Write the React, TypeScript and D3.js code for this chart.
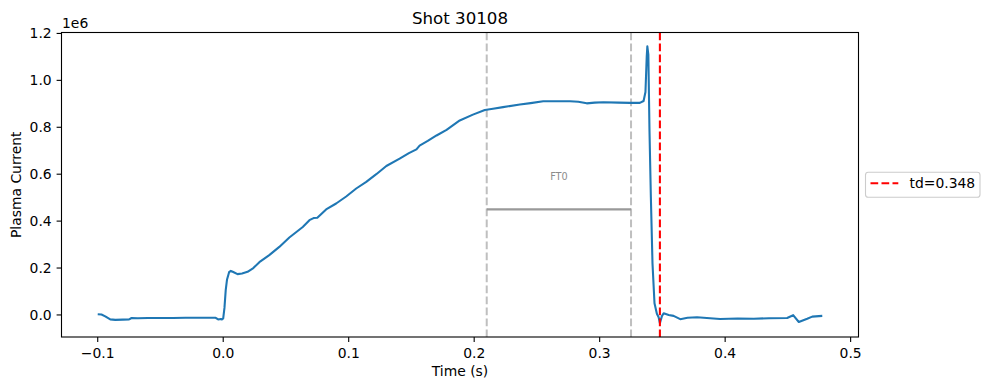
import React, { useEffect, useRef } from 'react';
import * as d3 from 'd3';

// plasma current trace (current in units of 1e6 A)
const time = [
  -0.1, -0.097, -0.094, -0.09, -0.086, -0.08, -0.075, -0.073, -0.068, -0.06,
  -0.05, -0.04, -0.03, -0.02, -0.01, -0.006, -0.004, -0.002, -0.001, 0.0,
  0.001, 0.002, 0.003, 0.0048, 0.0061, 0.008, 0.0114, 0.015, 0.0194, 0.024,
  0.0288, 0.0367, 0.0447, 0.0527, 0.0634, 0.0687, 0.072, 0.075, 0.082, 0.09,
  0.098, 0.106, 0.114, 0.122, 0.13, 0.1406, 0.148, 0.154, 0.1565, 0.163,
  0.17, 0.178, 0.1885, 0.199, 0.2085, 0.215, 0.223, 0.2364, 0.245, 0.255,
  0.265, 0.2764, 0.283, 0.2897, 0.296, 0.303, 0.315, 0.3243, 0.332, 0.335,
  0.3365, 0.3375, 0.338, 0.3388, 0.3397, 0.3408, 0.3421, 0.3437, 0.3456, 0.347,
  0.348, 0.3496, 0.351, 0.355, 0.3589, 0.3642, 0.37, 0.3776, 0.388, 0.396,
  0.41, 0.4228, 0.435, 0.4494, 0.4542, 0.4587, 0.4654, 0.4694, 0.4774,
];
const current = [
  0.003, 0.002, -0.006, -0.019, -0.021, -0.02, -0.019, -0.013, -0.014, -0.013,
  -0.013, -0.013, -0.012, -0.012, -0.012, -0.012, -0.019, -0.017, -0.019, -0.015,
  0.03, 0.106, 0.15, 0.184, 0.188, 0.183, 0.174, 0.177, 0.184, 0.2,
  0.225, 0.255, 0.29, 0.33, 0.375, 0.404, 0.413, 0.414, 0.45, 0.475,
  0.505, 0.539, 0.567, 0.6, 0.635, 0.666, 0.69, 0.706, 0.722, 0.742,
  0.765, 0.789, 0.829, 0.854, 0.874, 0.879, 0.886, 0.897, 0.903, 0.911,
  0.911, 0.911, 0.909, 0.902, 0.905, 0.907, 0.905, 0.904, 0.904, 0.912,
  0.95, 1.1, 1.145, 1.11, 0.786, 0.503, 0.22, 0.05, 0.005, -0.01,
  -0.035, -0.005, 0.007, 0.0, -0.004, -0.018, -0.012, -0.01, -0.014, -0.017,
  -0.015, -0.016, -0.014, -0.013, -0.001, -0.03, -0.016, -0.007, -0.004,
];

const windowStart = 0.21;
const windowEnd = 0.325;
const windowLevel = 0.45;
const windowLabel = 'FT0';
const disruptionTime = 0.348;

const xTicks = [-0.1, 0.0, 0.1, 0.2, 0.3, 0.4, 0.5];
const yTicks = [0.0, 0.2, 0.4, 0.6, 0.8, 1.0, 1.2];

const W = 989;
const H = 390;
const FONT = 'DejaVu Sans, sans-serif';

const App = () => {
  const svgRef = useRef(null);

  useEffect(() => {
    document.body.style.margin = '0';
    const left = 61.5;
    const right = 858.5;
    const top = 32.5;
    const bottom = 337;

    const svg = d3.select(svgRef.current);
    svg.selectAll('*').remove();

    // matplotlib-like 5% margins
    const [x0, x1] = d3.extent(time);
    const [y0, y1] = d3.extent(current);
    const xPad = (x1 - x0) * 0.05;
    const yPad = (y1 - y0) * 0.05;

    const xScale = d3.scaleLinear().domain([x0 - xPad, x1 + xPad]).range([left, right]);
    const yScale = d3.scaleLinear().domain([y0 - yPad, y1 + yPad]).range([bottom, top]);

    const g = svg.append('g');

    // window markers
    [windowStart, windowEnd].forEach((t) => {
      g.append('line')
        .attr('x1', xScale(t)).attr('x2', xScale(t))
        .attr('y1', top).attr('y2', bottom)
        .attr('stroke', '#bfbfbf')
        .attr('stroke-width', 2)
        .attr('stroke-dasharray', '7.7,3.3');
    });

    g.append('line')
      .attr('x1', xScale(windowStart)).attr('x2', xScale(windowEnd))
      .attr('y1', yScale(windowLevel)).attr('y2', yScale(windowLevel))
      .attr('stroke', '#999999')
      .attr('stroke-width', 2.1);

    g.append('text')
      .attr('x', xScale((windowStart + windowEnd) / 2))
      .attr('y', yScale(windowLevel) - 29.5)
      .attr('text-anchor', 'middle')
      .attr('font-family', FONT)
      .attr('font-size', 9.7)
      .attr('fill', '#8c8c8c')
      .text(windowLabel);

    // trace
    const pts = time.map((t, i) => [t, current[i]]);
    const line = d3.line().x((d) => xScale(d[0])).y((d) => yScale(d[1]));
    g.append('path')
      .datum(pts)
      .attr('fill', 'none')
      .attr('stroke', '#1f77b4')
      .attr('stroke-width', 2.08)
      .attr('stroke-linejoin', 'round')
      .attr('d', line);

    // disruption time
    g.append('line')
      .attr('x1', xScale(disruptionTime)).attr('x2', xScale(disruptionTime))
      .attr('y1', top).attr('y2', bottom)
      .attr('stroke', 'red')
      .attr('stroke-width', 2.08)
      .attr('stroke-dasharray', '7.7,3.3');

    // frame
    g.append('rect')
      .attr('x', left).attr('y', top)
      .attr('width', right - left).attr('height', bottom - top)
      .attr('fill', 'none')
      .attr('stroke', 'black')
      .attr('stroke-width', 1.1);

    // x axis
    xTicks.forEach((t) => {
      const x = xScale(t);
      g.append('line')
        .attr('x1', x).attr('x2', x).attr('y1', bottom).attr('y2', bottom + 4.9)
        .attr('stroke', 'black').attr('stroke-width', 1.1);
      g.append('text')
        .attr('x', x).attr('y', bottom + 20.5)
        .attr('text-anchor', 'middle')
        .attr('font-family', FONT).attr('font-size', 13.9)
        .text(d3.format('.1f')(t).replace('-', '\u2212'));
    });

    // y axis
    yTicks.forEach((t) => {
      const y = yScale(t);
      g.append('line')
        .attr('x1', left - 4.9).attr('x2', left).attr('y1', y).attr('y2', y)
        .attr('stroke', 'black').attr('stroke-width', 1.1);
      g.append('text')
        .attr('x', left - 9.8).attr('y', y + 5)
        .attr('text-anchor', 'end')
        .attr('font-family', FONT).attr('font-size', 13.9)
        .text(d3.format('.1f')(t));
    });

    g.append('text')
      .attr('x', left + 0.5).attr('y', 28)
      .attr('font-family', FONT).attr('font-size', 13.9)
      .text('1e6');

    g.append('text')
      .attr('x', (left + right) / 2).attr('y', 375.5)
      .attr('text-anchor', 'middle')
      .attr('font-family', FONT).attr('font-size', 13.9)
      .text('Time (s)');

    g.append('text')
      .attr('transform', `translate(20.5,${(top + bottom) / 2}) rotate(-90)`)
      .attr('text-anchor', 'middle')
      .attr('font-family', FONT).attr('font-size', 13.9)
      .text('Plasma Current');

    g.append('text')
      .attr('x', (left + right) / 2).attr('y', 24)
      .attr('text-anchor', 'middle')
      .attr('font-family', FONT).attr('font-size', 16.67)
      .text('Shot 30108');

    // legend
    const lg = g.append('g');
    const ly = (top + bottom) / 2;
    lg.append('rect')
      .attr('x', 865.5).attr('y', ly - 12.5)
      .attr('width', 114.5).attr('height', 25)
      .attr('rx', 2.8)
      .attr('fill', 'white').attr('fill-opacity', 0.8)
      .attr('stroke', '#cccccc').attr('stroke-width', 1.1);
    lg.append('line')
      .attr('x1', 870.5).attr('x2', 898.3).attr('y1', ly - 1.5).attr('y2', ly - 1.5)
      .attr('stroke', 'red').attr('stroke-width', 2.08)
      .attr('stroke-dasharray', '7.7,3.3');
    lg.append('text')
      .attr('x', 909.5).attr('y', ly + 3.5)
      .attr('font-family', FONT).attr('font-size', 13.9)
      .text(`td=${disruptionTime}`);
  }, []);

  return <svg ref={svgRef} width={W} height={H} style={{ display: 'block' }} />;
};

export default App;
